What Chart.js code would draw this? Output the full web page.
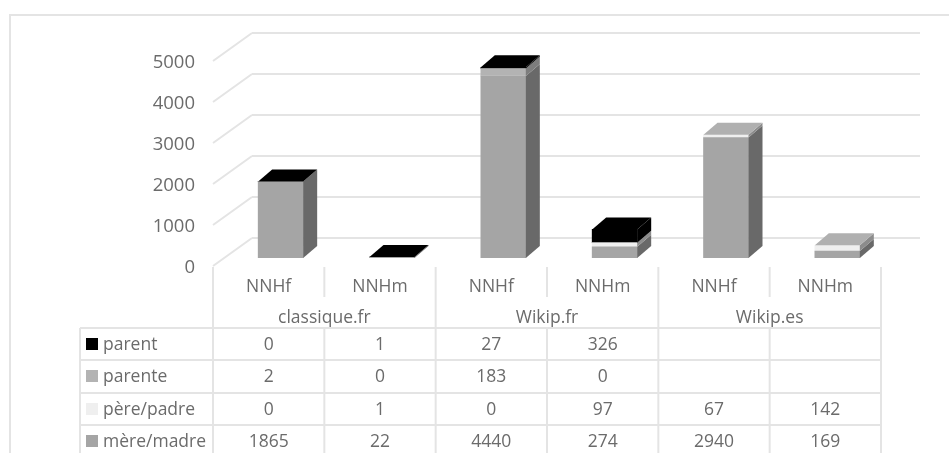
<!DOCTYPE html>
<html lang="fr">
<head>
  <meta charset="UTF-8" />
  <title>NNH parent</title>
  <script src="https://cdn.jsdelivr.net/npm/chart.js"></script>
  <style>
    body { margin: 0; background: #fff; }
    canvas { display: block; }
  </style>
</head>
<body>
<canvas id="chart" width="949" height="453"></canvas>
<script>
  const categories = ['NNHf', 'NNHm', 'NNHf', 'NNHm', 'NNHf', 'NNHm'];
  const groups = ['classique.fr', 'Wikip.fr', 'Wikip.es'];
  const yTicks = [0, 1000, 2000, 3000, 4000, 5000];

  const parent = [0, 1, 27, 326, null, null];
  const parente = [2, 0, 183, 0, null, null];
  const pere = [0, 1, 0, 97, 67, 142];
  const mere = [1865, 22, 4440, 274, 2940, 169];

  const lineColor = '#e4e4e4';
  const textColor = '#6b6b6b';
  const fontFamily = '"Open Sans", sans-serif';

  // front, side and top colour of each series, bottom of the stack first
  const series = [
    { label: 'mère/madre', values: mere, front: '#a5a5a5', side: '#696969', top: '#a5a5a5' },
    { label: 'père/padre', values: pere, front: '#efefef', side: '#8c8c8c', top: '#b0b0b0' },
    { label: 'parente', values: parente, front: '#b3b3b3', side: '#7d7d7d', top: '#b3b3b3' },
    { label: 'parent', values: parent, front: '#000000', side: '#000000', top: '#000000' }
  ];

  // 3d offsets from the plane the bars are drawn on
  const barDepth = { x: 14, y: -12 };
  const wallFront = { x: -12, y: 8 };
  const wallBack = { x: 27, y: -20 };

  const tableRows = [328, 360, 393, 425];
  const tableLeft = 80;

  function line(ctx, x1, y1, x2, y2) {
    ctx.beginPath();
    ctx.moveTo(x1, y1);
    ctx.lineTo(x2, y2);
    ctx.stroke();
  }

  function poly(ctx, pts, color) {
    ctx.fillStyle = color;
    ctx.beginPath();
    pts.forEach((p, i) => i ? ctx.lineTo(p[0], p[1]) : ctx.moveTo(p[0], p[1]));
    ctx.closePath();
    ctx.fill();
  }

  const wallPlugin = {
    id: 'wall',
    beforeDraw(chart) {
      const ctx = chart.ctx;
      ctx.save();
      ctx.strokeStyle = lineColor;
      ctx.lineWidth = 2;
      // outer chart frame, runs off the picture on the right and at the bottom
      ctx.strokeRect(10, 15, 1000, 500);
      ctx.restore();
    },
    beforeDatasetsDraw(chart) {
      const ctx = chart.ctx, y = chart.scales.y, x = chart.scales.x;
      ctx.save();
      ctx.strokeStyle = lineColor;
      ctx.lineWidth = 2;
      yTicks.forEach(v => {
        const py = y.getPixelForValue(v);
        line(ctx, x.left + wallFront.x, py + wallFront.y, x.left + wallBack.x, py + wallBack.y);
        line(ctx, x.left + wallBack.x, py + wallBack.y, x.right + wallBack.x, py + wallBack.y);
      });
      ctx.restore();
    },
    afterDatasetsDraw(chart) {
      const ctx = chart.ctx;
      categories.forEach((c, i) => {
        let topIdx = -1;
        series.forEach((s, d) => {
          if (s.values[i] === null) return;
          topIdx = d;
          const bar = chart.getDatasetMeta(d).data[i];
          const right = bar.x + bar.width / 2;
          poly(ctx, [[right, bar.y], [right + barDepth.x, bar.y + barDepth.y],
            [right + barDepth.x, bar.base + barDepth.y], [right, bar.base]], s.side);
        });
        const bar = chart.getDatasetMeta(topIdx).data[i];
        const l = bar.x - bar.width / 2, r = bar.x + bar.width / 2;
        poly(ctx, [[l, bar.y], [l + barDepth.x, bar.y + barDepth.y],
          [r + barDepth.x, bar.y + barDepth.y], [r, bar.y]], series[topIdx].top);
      });
    },
    afterDraw(chart) {
      const ctx = chart.ctx, x = chart.scales.x, y = chart.scales.y;
      const floorY = y.getPixelForValue(0) + wallFront.y;
      const cellW = x.width / categories.length;
      const colX = i => x.left + wallFront.x + i * cellW;
      const tableTop = tableRows[0];
      const rowH = tableRows[1] - tableRows[0];
      ctx.save();
      ctx.strokeStyle = lineColor;
      ctx.lineWidth = 2;
      // category separators above the table
      for (let i = 0; i <= categories.length; i++) {
        line(ctx, colX(i), floorY + 1, colX(i), i % 2 ? floorY + 31 : 453);
      }
      tableRows.forEach(r => line(ctx, tableLeft, r, colX(categories.length), r));
      line(ctx, tableLeft, tableTop, tableLeft, 453);
      // the inner table columns only start at the table top
      for (let i = 1; i < categories.length; i += 2) {
        line(ctx, colX(i), tableTop, colX(i), 453);
      }

      ctx.fillStyle = textColor;
      ctx.textBaseline = 'middle';
      ctx.font = '17.5px ' + fontFamily;
      ctx.textAlign = 'center';
      groups.forEach((g, i) => ctx.fillText(g, colX(i * 2 + 1), 318));

      // table rows go top of the stack first
      series.slice().reverse().forEach((s, r) => {
        const cy = tableRows[r] + rowH / 2 + 1;
        ctx.fillStyle = s.front;
        ctx.fillRect(86, cy - 7, 12, 12);
        ctx.fillStyle = textColor;
        ctx.textAlign = 'left';
        ctx.fillText(s.label, 103, cy);
        ctx.textAlign = 'center';
        s.values.forEach((v, i) => {
          if (v !== null) ctx.fillText(String(v), colX(i) + cellW / 2, cy);
        });
      });
      ctx.restore();
    }
  };

  new Chart(document.getElementById('chart').getContext('2d'), {
    type: 'bar',
    data: {
      labels: categories,
      datasets: series.map(s => ({
        label: s.label,
        data: s.values,
        backgroundColor: s.front,
        barThickness: 45
      }))
    },
    options: {
      responsive: false,
      animation: false,
      layout: { padding: { top: 53, right: 56, bottom: 0, left: 0 } },
      plugins: { legend: { display: false }, tooltip: { enabled: false } },
      scales: {
        x: {
          stacked: true,
          grid: { display: false, drawTicks: false },
          border: { display: false },
          ticks: {
            autoSkip: false, maxRotation: 0, padding: 19, labelOffset: -12,
            color: textColor, font: { family: fontFamily, size: 17.5 }
          },
          afterFit(scale) { scale.height = 195; }
        },
        y: {
          stacked: true,
          min: 0,
          max: 5000,
          grid: { display: false, drawTicks: false },
          border: { display: false },
          ticks: {
            stepSize: 1000, padding: 30, labelOffset: 10,
            color: textColor, font: { family: fontFamily, size: 18.5 },
            callback: v => String(v)
          },
          afterFit(scale) { scale.width = 225; }
        }
      }
    },
    plugins: [wallPlugin]
  });
</script>
</body>
</html>
